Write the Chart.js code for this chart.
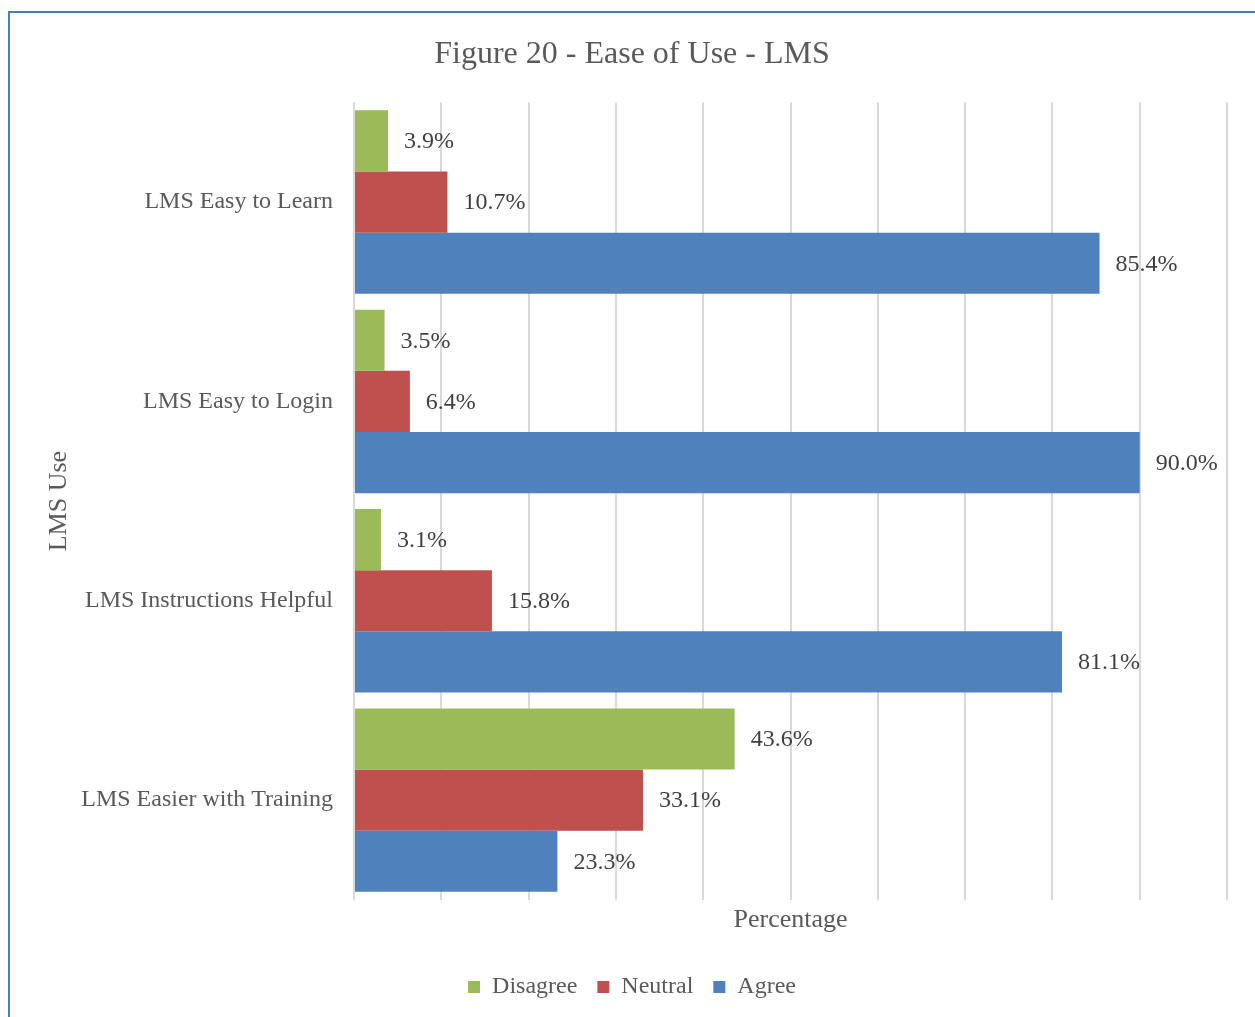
<!DOCTYPE html>
<html>
<head>
<meta charset="utf-8">
<title>Ease of Use - LMS</title>
<script src="https://cdn.jsdelivr.net/npm/chart.js@4.4.1/dist/chart.umd.min.js"></script>
<style>
    html, body { margin: 0; padding: 0; background: #fff; overflow: hidden; }
    #frame {
        position: absolute; left: 8px; top: 11px;
        width: 1270px; height: 1030px;
        border: 2px solid #4a7ebb;
    }
    #wrap { position: absolute; left: 10px; top: 14px; width: 1245px; height: 1003px; }
</style>
</head>
<body>
<div id="frame"></div>
<div id="wrap"><canvas id="lms-chart"></canvas></div>
<script>
// =====================
// Survey data
// =====================
const categories = [
    "LMS Easy to Learn",
    "LMS Easy to Login",
    "LMS Instructions Helpful",
    "LMS Easier with Training"
];
const disagree = [3.9, 3.5, 3.1, 43.6];
const neutral = [10.7, 6.4, 15.8, 33.1];
const agree = [85.4, 90.0, 81.1, 23.3];

const FONT = "'Liberation Serif', 'Times New Roman', serif";

// Draws "xx.x%" just past the end of every bar
const valueLabels = {
    id: "valueLabels",
    afterDatasetsDraw(chart) {
        const ctx = chart.ctx;
        ctx.save();
        ctx.font = "24px " + FONT;
        ctx.fillStyle = "#404040";
        ctx.textAlign = "left";
        ctx.textBaseline = "middle";
        chart.data.datasets.forEach((ds, i) => {
            chart.getDatasetMeta(i).data.forEach((bar, j) => {
                ctx.fillText(ds.data[j].toFixed(1) + "%", bar.x + 16, bar.y + 1);
            });
        });
        ctx.restore();
    }
};

function renderChart() {
    const ctx = document.getElementById("lms-chart").getContext("2d");
    new Chart(ctx, {
        type: "bar",
        data: {
            labels: categories,
            datasets: [
                { label: "Disagree", data: disagree, backgroundColor: "#9bbb59" },
                { label: "Neutral", data: neutral, backgroundColor: "#c0504d" },
                { label: "Agree", data: agree, backgroundColor: "#4f81bd" }
            ]
        },
        options: {
            indexAxis: "y",
            responsive: true,
            maintainAspectRatio: false,
            animation: false,
            categoryPercentage: 0.92,
            barPercentage: 1.0,
            layout: { padding: { left: 27, right: 28, top: 0, bottom: 8 } },
            scales: {
                x: {
                    min: 0,
                    max: 100,
                    ticks: { display: false, stepSize: 10 },
                    grid: { color: "#d9d9d9", lineWidth: 2, drawTicks: false },
                    border: { display: false },
                    title: {
                        display: true,
                        text: "Percentage",
                        color: "#595959",
                        font: { family: FONT, size: 26 },
                        padding: { top: 5, bottom: 19 }
                    }
                },
                y: {
                    grid: { display: false, drawTicks: false },
                    border: { display: false },
                    ticks: {
                        color: "#595959",
                        font: { family: FONT, size: 24 },
                        padding: 21
                    },
                    title: {
                        display: true,
                        text: "LMS Use",
                        color: "#595959",
                        font: { family: FONT, size: 26 },
                        padding: { top: 7, bottom: 0 }
                    },
                    afterFit(scale) { scale.width = 317; }
                }
            },
            plugins: {
                title: {
                    display: true,
                    text: "Figure 20 - Ease of Use - LMS",
                    color: "#595959",
                    font: { family: FONT, size: 32, weight: "normal" },
                    padding: { top: 21, bottom: 29 }
                },
                legend: {
                    position: "bottom",
                    labels: {
                        color: "#595959",
                        font: { family: FONT, size: 24 },
                        boxWidth: 12,
                        boxHeight: 12,
                        padding: 20
                    }
                },
                tooltip: { enabled: false }
            }
        },
        plugins: [valueLabels]
    });
}

document.addEventListener("DOMContentLoaded", renderChart);
</script>
</body>
</html>
